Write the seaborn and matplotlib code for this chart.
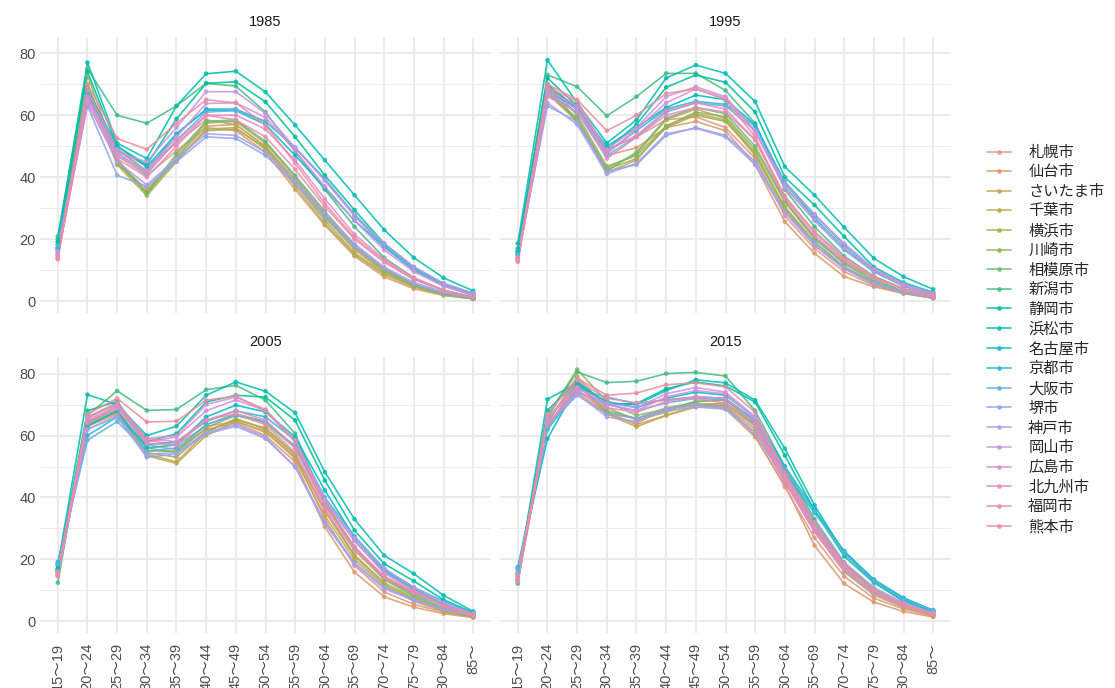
import numpy as np
import pandas as pd
import matplotlib
matplotlib.use("Agg")
import matplotlib.pyplot as plt
import seaborn as sns
from matplotlib.lines import Line2D

ages = ["15～19", "20～24", "25～29", "30～34", "35～39", "40～44", "45～49", "50～54",
        "55～59", "60～64", "65～69", "70～74", "75～79", "80～84", "85～"]
cities = ["札幌市", "仙台市", "さいたま市", "千葉市", "横浜市", "川崎市", "相模原市", "新潟市",
          "静岡市", "浜松市", "名古屋市", "京都市", "大阪市", "堺市", "神戸市", "岡山市",
          "広島市", "北九州市", "福岡市", "熊本市"]
years = ["1985", "1995", "2005", "2015"]

rates_1985 = [
    [13.5, 69, 49, 43.4, 51, 58.5, 57, 49.8, 39, 27.8, 17, 9.5, 5, 2.5, 1],
    [14, 66, 47, 40.5, 48.5, 56, 55, 48, 36, 24.5, 14.5, 7.8, 4, 1.8, 0.7],
    [17, 67, 45, 36, 46, 56.5, 57, 50, 39, 27, 16.5, 9.5, 5, 2.3, 0.8],
    [16, 68, 44, 34, 45, 55.5, 56, 49, 37, 25, 15, 8.5, 4.5, 2.0, 0.7],
    [17, 70, 44.5, 35, 45.5, 55, 55.5, 49.5, 38, 26, 15.5, 9, 4.8, 2.2, 0.8],
    [19, 73, 46, 34.5, 46.5, 57.5, 58, 51, 40, 28, 17.5, 10, 5.2, 2.4, 0.8],
    [17, 70, 45, 35, 47.5, 58, 58.5, 51.5, 40.5, 29, 18, 10.5, 5.5, 2.5, 0.8],
    [21, 75, 60, 57.4, 63, 70.3, 69.4, 61, 48.2, 36, 24, 14, 7.5, 3.5, 1.0],
    [19, 74, 50, 44, 58.8, 70.3, 70.8, 64.3, 53, 40.6, 29.4, 18.6, 11, 5.7, 2.5],
    [20, 77, 51, 46, 63, 73.4, 74.2, 67.5, 56.8, 45.5, 34.2, 23, 14, 7.5, 3.3],
    [18, 68, 50, 43.4, 54, 61.7, 61.5, 57, 47, 36.5, 26, 17.5, 10, 5, 2],
    [17, 67, 49, 42, 54, 62, 62, 58, 49.5, 39.5, 28, 18, 10.5, 5.5, 2.3],
    [18, 66, 48, 41, 52, 61, 61.5, 58, 49.5, 39, 27.5, 17.5, 10, 5, 2],
    [16, 63, 40.6, 37, 45, 53, 52.5, 47, 38, 27, 17.5, 10.5, 5.5, 2.5, 1],
    [15, 64, 45, 37.5, 46, 54, 53.5, 48, 39, 28.5, 18.5, 11, 6, 3, 1.2],
    [16, 66, 48, 45, 56, 67.6, 67.6, 60.6, 49.5, 39, 28, 18.6, 11, 5.7, 2.5],
    [15, 65, 47, 42, 53, 63.8, 64, 59.3, 48.5, 37, 26, 16.5, 9.5, 4.8, 1.8],
    [14, 64, 46, 40, 50, 60, 60, 55.5, 45.5, 33, 21.5, 13.5, 7.5, 3.5, 1.3],
    [15, 68, 49, 41.5, 51.5, 60, 58.5, 53, 42.5, 30.5, 20, 12.5, 7, 3.5, 1.3],
    [14, 70, 52.5, 49, 57.4, 65, 64, 56.8, 44.5, 31.5, 20.5, 13, 7, 3.5, 1.3],
]

rates_1995 = [
    [12.7, 69, 63, 49, 53, 58.5, 59.5, 56, 46, 27.5, 17, 9.5, 5, 2.5, 1],
    [13, 68.5, 62.5, 47, 49.5, 56, 58, 55, 44, 25.6, 15.4, 7.9, 4.6, 2.5, 0.9],
    [15, 67, 59, 43, 47.5, 58.5, 62, 59, 48, 30, 19, 11, 6, 2.8, 1],
    [14.5, 67, 58, 41.5, 45.5, 56.5, 60.5, 58.5, 47, 29.5, 18, 10.5, 5.5, 2.5, 1],
    [15, 68, 58, 42.5, 46, 56, 60, 58, 47.5, 30.5, 19, 11, 6, 2.8, 1],
    [16, 70, 60, 43.5, 47, 56.5, 61, 59.5, 49, 32, 20, 12, 6.5, 3, 1.2],
    [15.5, 69, 58.5, 42, 48, 59, 62.5, 60.5, 50, 32.5, 20.5, 12.5, 7, 3.2, 1.2],
    [16, 73, 69.2, 59.8, 66, 73.5, 73.5, 68, 57.4, 36, 24, 14.5, 8, 4, 1.5],
    [17, 72, 63, 49, 57, 69, 73, 70.6, 61, 40, 31, 20.8, 11, 6, 2.8],
    [18.6, 77.8, 64, 51, 58.5, 72, 76.2, 73.5, 64.4, 43.4, 34.2, 23.8, 13.8, 7.9, 3.8],
    [16, 70, 62, 50, 56, 62.5, 66.5, 65, 57, 38, 27, 17, 9.5, 4.8, 2],
    [15, 68, 62, 48, 55, 62, 64.5, 63.5, 56.5, 38.5, 28, 18, 10, 5.5, 2.5],
    [15, 67, 61, 47, 53, 61, 64, 63, 55, 37, 26, 16.5, 9.5, 5, 2.2],
    [14, 63, 58, 42, 44, 53.5, 56, 53.5, 45, 29, 19, 11, 6, 3, 1.2],
    [13.5, 64, 57, 41, 44.5, 54, 55.8, 53, 44, 28.5, 18, 10.5, 5.5, 2.8, 1.1],
    [14, 68, 63, 49, 56, 66, 69.2, 66, 55, 38, 28, 18.6, 10.5, 5.5, 2.5],
    [13.5, 67, 62, 47.5, 55.5, 64, 68.5, 65.5, 54.5, 36.5, 26.5, 17, 9.8, 5, 2],
    [13, 66, 61, 46, 53, 60, 62.5, 61, 52, 34, 22, 13.5, 7.5, 3.8, 1.5],
    [14, 69, 64.5, 48.5, 53.5, 61.5, 64, 62, 52, 33, 21, 13, 7.5, 4, 1.5],
    [13, 70, 65, 55, 60, 67, 68.5, 65, 53, 33.5, 22.5, 14, 8, 4, 1.6],
]

rates_2005 = [
    [14.5, 64.5, 69, 58.5, 57, 63, 64.5, 61, 53, 33, 18, 9.5, 5.5, 3, 1.3],
    [15, 63, 70, 57, 55.5, 62, 64, 60, 51.5, 30.5, 15.9, 7.9, 4.6, 2.5, 1.2],
    [16.5, 63, 67, 54, 51.5, 61, 65.5, 62, 53.5, 35.5, 21, 12, 7, 3.5, 1.5],
    [16, 63.5, 67.5, 53.5, 51, 60, 64.5, 61.5, 52.5, 34, 20, 11.5, 6.5, 3.2, 1.4],
    [16.5, 64, 67.5, 54.5, 53, 61.5, 65, 62.5, 54, 36, 21.5, 12.5, 7.5, 3.8, 1.6],
    [17, 66, 70.5, 56, 54.5, 62.5, 66.5, 64, 56, 38, 23, 13.5, 8, 4, 1.7],
    [16.5, 64.5, 68, 55, 55, 63.5, 67, 64.5, 56.5, 38.5, 24, 14, 8.5, 4.3, 1.7],
    [12.5, 66.5, 74.4, 68.1, 68.4, 74.8, 76.2, 71.4, 60.6, 38, 24, 14, 9, 5, 2],
    [17, 68, 71, 58, 60.6, 70.8, 73, 72.4, 64.9, 45.5, 29.4, 18.6, 13, 7, 2.8],
    [18, 73.2, 70, 60, 63, 73, 77.3, 74.3, 67.3, 48.2, 33, 21.3, 15.4, 8.4, 3.2],
    [18.5, 63, 68, 56, 57, 66, 69.8, 67.6, 59.5, 42.3, 27, 16.5, 10.5, 5.5, 2.5],
    [19.2, 60, 66, 57, 58, 64.5, 68, 66, 58.5, 40, 27.5, 17, 11, 6.5, 2.8],
    [18.5, 58.5, 64.5, 55, 56, 63.5, 66.5, 64.5, 56.5, 39, 26, 16, 10, 5.5, 2.4],
    [16, 62, 66, 53, 54, 60.5, 63, 59, 50, 32, 19, 11, 7, 4, 1.8],
    [15.5, 62, 66.5, 54, 54.5, 61, 63.5, 59.5, 49.8, 31.5, 18.5, 10.5, 6.8, 3.8, 1.8],
    [16, 66, 70, 59, 60, 70, 72.4, 68.4, 58.5, 39.5, 27, 17, 11, 6, 2.5],
    [15, 65, 69.5, 58, 59.5, 68, 71.5, 68, 58, 39, 26, 15.5, 10, 5.2, 2.2],
    [15, 64, 68.5, 57.5, 57, 65, 68, 65, 56, 37, 24, 14.5, 9.5, 5, 2],
    [16, 65.5, 70.5, 59, 58, 65, 67, 63.5, 54.5, 36, 23, 14, 9, 5, 2],
    [15, 67, 72, 64.4, 64.6, 71.4, 72.7, 68, 58, 38, 24, 14.5, 9.5, 5, 2.1],
]

rates_2015 = [
    [13.5, 63.5, 75, 67.5, 65.5, 69, 70.5, 69.5, 60, 43.4, 27, 14.5, 7.5, 4, 1.6],
    [13.5, 62.5, 74, 67, 64, 68.5, 70, 68.5, 59.5, 44, 24.5, 12.2, 6.2, 3.2, 1.4],
    [15, 62.5, 77, 67.5, 63.5, 66.5, 69.5, 70, 63, 47, 30, 16.5, 9, 4.8, 2],
    [14.5, 63, 76.5, 67, 62.8, 66.5, 69.2, 69.5, 62, 46, 29, 16, 8.5, 4.5, 1.9],
    [15, 64, 79, 69, 65, 67.5, 70, 70.5, 63.5, 48, 31, 17.5, 9.5, 5, 2.1],
    [16, 66.5, 81.3, 71, 66.5, 68.5, 71, 71.5, 64.5, 49, 32, 18.5, 10, 5.2, 2.3],
    [15.5, 65, 77, 68, 65.5, 68, 71, 71.5, 63.5, 48, 32, 18, 10, 5.4, 2.2],
    [12.2, 66, 80.5, 77.1, 77.5, 80, 80.4, 79.2, 68, 50, 33, 19, 10.5, 5.5, 2.5],
    [13, 68.1, 77.5, 70, 70.3, 75.1, 77.3, 76, 70.8, 53.6, 35.8, 21, 12.5, 6.5, 3],
    [14, 71.7, 77, 70.5, 70, 74.5, 78, 77, 71.4, 55.8, 37.5, 22, 13, 7, 3.2],
    [17, 59, 76, 71, 69, 72, 74, 73, 66, 50, 36, 22.7, 13.5, 7.6, 3.6],
    [17.5, 62, 75, 72.4, 70.3, 71.5, 72.5, 72, 65, 48, 35, 22.5, 13.5, 7.5, 3.5],
    [17, 62, 74, 70, 68, 70.5, 72, 71.5, 65, 49.5, 35.5, 22, 13, 7.2, 3.4],
    [15.5, 63, 73, 67, 65.5, 68.5, 70, 69, 61, 45.5, 30, 17.5, 10, 5.5, 2.5],
    [14.5, 64, 73.5, 66, 64.5, 68, 69.2, 68.5, 61, 45, 29, 16.5, 9, 5, 2.3],
    [14, 66, 75.5, 70.5, 69, 73.5, 75.5, 74, 66, 48, 32, 19, 11, 6, 2.7],
    [13.5, 65.5, 75.5, 70, 68, 72.5, 74.5, 73.5, 65.5, 47, 31, 18, 10, 5.5, 2.4],
    [13, 64, 74.5, 69, 67.5, 71, 72.5, 72, 64, 46, 30, 17.5, 10, 5.5, 2.3],
    [14.5, 65, 77.8, 72, 70.5, 71.5, 72, 70.5, 63, 45, 29, 17, 9.5, 5, 2.2],
    [13, 67, 78.5, 73, 73.7, 76.4, 77, 75.7, 67.5, 48, 31, 18, 10, 5.2, 2.2],
]

all_rates = {"1985": rates_1985, "1995": rates_1995, "2005": rates_2005, "2015": rates_2015}


def hcl_hex(h, c, l):
    hr = np.deg2rad(h)
    u, v = c * np.cos(hr), c * np.sin(hr)
    Xn, Yn, Zn = 95.047, 100.0, 108.883
    den = Xn + 15 * Yn + 3 * Zn
    un, vn = 4 * Xn / den, 9 * Yn / den
    Y = Yn * ((l + 16) / 116) ** 3
    up, vp = u / (13 * l) + un, v / (13 * l) + vn
    X = Y * 9 * up / (4 * vp)
    Z = Y * (12 - 3 * up - 20 * vp) / (4 * vp)
    X, Y, Z = X / 100, Y / 100, Z / 100
    rgb = [3.2404542 * X - 1.5371385 * Y - 0.4985314 * Z,
           -0.9692660 * X + 1.8760108 * Y + 0.0415560 * Z,
           0.0556434 * X - 0.2040259 * Y + 1.0572252 * Z]
    out = []
    for ch in rgb:
        ch = max(ch, 0)
        ch = 12.92 * ch if ch <= 0.0031308 else 1.055 * ch ** (1 / 2.4) - 0.055
        out.append(min(max(ch, 0), 1))
    return matplotlib.colors.to_hex(out)


n = len(cities)
palette = {city: hcl_hex(20 + 360 / n * i, 60, 69) for i, city in enumerate(cities)}

sns.set_theme(style="white")
plt.rcParams["font.family"] = ["Liberation Sans", "Noto Sans CJK JP"]

fig = plt.figure(figsize=(11.15, 6.88), dpi=100)
W, H = 1115, 688
pw, ph = 451 / W, 276 / H
lefts = [40 / W, 500 / W]
bottoms = [1 - 312.7 / H, 1 - 633 / H]

ALPHA = 0.87
for k, year in enumerate(years):
    row, col = divmod(k, 2)
    ax = fig.add_axes([lefts[col], bottoms[row], pw, ph])
    rows = []
    for city, vals in zip(cities, all_rates[year]):
        for age, v in zip(ages, vals):
            rows.append((city, age, v))
    df = pd.DataFrame(rows, columns=["city", "age", "rate"])
    sns.lineplot(data=df, x="age", y="rate", hue="city", hue_order=cities,
                 palette=palette, sort=False, estimator=None, legend=False,
                 linewidth=1.2, alpha=ALPHA, ax=ax, zorder=2)
    sns.scatterplot(data=df, x="age", y="rate", hue="city", hue_order=cities,
                    palette=palette, s=11, linewidth=0, alpha=ALPHA,
                    legend=False, ax=ax, zorder=3)
    ax.set_xlim(-0.6, len(ages) - 0.4)
    ax.set_ylim(-3.75, 85.35)
    ax.set_yticks([0, 20, 40, 60, 80])
    ax.set_yticks([10, 30, 50, 70], minor=True)
    ax.set_axisbelow(True)
    ax.grid(which="major", color="#EBEBEB", linewidth=1.4)
    ax.grid(which="minor", axis="y", color="#EBEBEB", linewidth=0.7)
    for s in ax.spines.values():
        s.set_visible(False)
    ax.set_xlabel("")
    ax.set_ylabel("")
    ax.tick_params(axis="both", which="both", length=0, labelsize=10.5,
                   labelcolor="#4D4D4D")
    ax.tick_params(axis="y", pad=3)
    ax.tick_params(axis="x", pad=7)
    if row == 0:
        ax.set_xticklabels([])
    else:
        ax.set_xticks(range(len(ages)))
        ax.set_xticklabels(ages, rotation=90, va="top", ha="center")
    if col == 1:
        ax.set_yticklabels([])
    ax.set_title(year, fontsize=10.5, color="#1A1A1A", pad=8)

handles = [Line2D([0], [0], color=palette[c], lw=1.2, marker="o", ms=3.4,
                  markeredgewidth=0, alpha=ALPHA) for c in cities]
fig.legend(handles, cities, loc="center left", bbox_to_anchor=(987 / W, 1 - 340 / H),
           frameon=False, fontsize=11, handlelength=1.6, handletextpad=1.1,
           labelspacing=0.36, borderpad=0, borderaxespad=0)

fig.savefig("out.png", dpi=100)
